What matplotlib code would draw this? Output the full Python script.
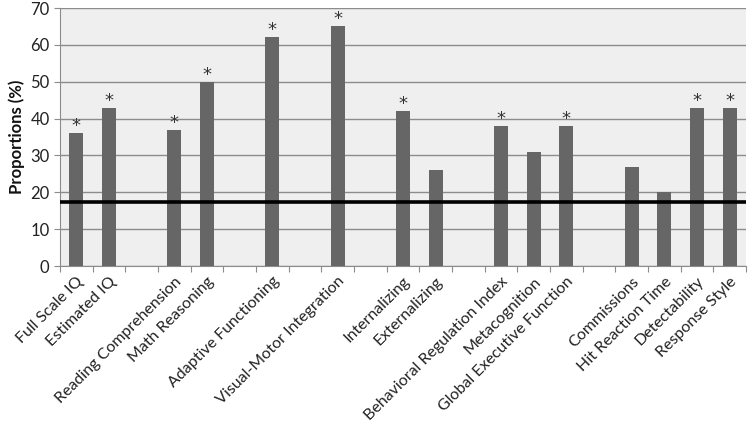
import matplotlib
matplotlib.use("Agg")
import matplotlib.pyplot as plt

plt.rcParams['font.family'] = ['Lato', 'DejaVu Sans']

# Categorías (los huecos vacíos separan los grupos)
categorias = ["Full Scale IQ", "Estimated IQ", "",
              "Reading Comprehension", "Math Reasoning", "",
              "Adaptive Functioning", "",
              "Visual-Motor Integration", "",
              "Internalizing", "Externalizing", "",
              "Behavioral Regulation Index", "Metacognition", "Global Executive Function", "",
              "Commissions", "Hit Reaction Time", "Detectability", "Response Style"]

proporciones = [36, 43, None,
                37, 50, None,
                62, None,
                65, None,
                42, 26, None,
                38, 31, 38, None,
                27, 20, 43, 43]

significativo = [True, True, False,
                 True, True, False,
                 True, False,
                 True, False,
                 True, False, False,
                 True, False, True, False,
                 False, False, True, True]

linea_referencia = 17.5

fig = plt.figure(figsize=(7.5, 4.24), dpi=100)
ax = fig.add_axes([0.08, 0.3726, 0.9147, 0.6085])
ax.set_facecolor('#efefef')

x = [i for i, v in enumerate(proporciones) if v is not None]
y = [v for v in proporciones if v is not None]
ax.bar(x, y, width=0.43, color='#666666', zorder=3)

# Asteriscos de significancia
for i, v in enumerate(proporciones):
    if v is not None and significativo[i]:
        ax.text(i, v + 1.9, '*', ha='center', va='center', fontsize=13,
                family='DejaVu Sans', color='#333333', zorder=4)

ax.axhline(linea_referencia, color='black', linewidth=2.6, zorder=4)

ax.set_xlim(-0.5, len(categorias) - 0.5)
ax.set_ylim(0, 70)
ax.set_yticks(range(0, 71, 10))
ax.yaxis.grid(True, color='#8c8c8c', linewidth=1)
ax.set_axisbelow(True)

# Marcas del eje x entre categorías, etiquetas en el centro
ax.set_xticks([i + 0.5 for i in range(-1, len(categorias))])
ax.set_xticklabels([])
ax.set_xticks(range(len(categorias)), minor=True)
ax.set_xticklabels(categorias, minor=True, rotation=45, ha='right',
                   rotation_mode='anchor', fontsize=11.5, color='#222222')
ax.tick_params(axis='x', which='major', direction='out', length=4, color='#8c8c8c')
ax.tick_params(axis='x', which='minor', length=0, pad=6)
ax.tick_params(axis='y', labelsize=12, length=4, color='#8c8c8c', labelcolor='#222222')

for lado in ['top', 'right']:
    ax.spines[lado].set_visible(False)
ax.spines['left'].set_color('#8c8c8c')
ax.spines['bottom'].set_color('#8c8c8c')

ax.set_ylabel("Proportions (%)", fontsize=12, fontweight='bold', color='#111111')

plt.savefig("out.png", dpi=100)
